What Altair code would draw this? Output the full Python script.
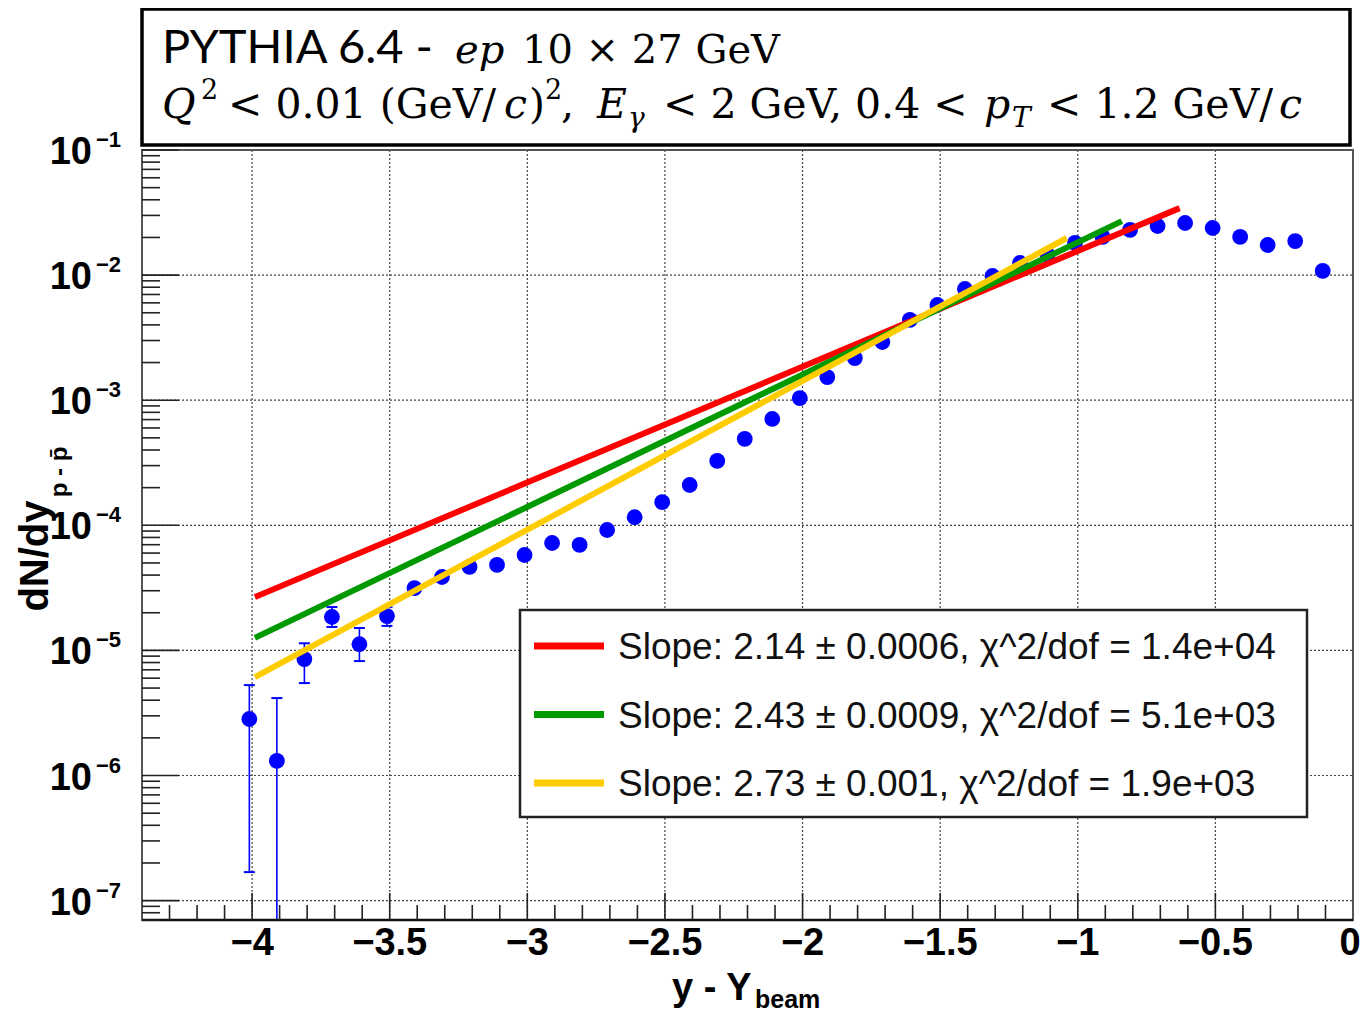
import altair as alt
import pandas as pd

# ---------------- data ----------------
y_beam = [-4.01, -3.91, -3.81, -3.71, -3.61, -3.51, -3.41, -3.31, -3.21, -3.11,
          -3.01, -2.91, -2.81, -2.71, -2.61, -2.51, -2.41, -2.31, -2.21, -2.11,
          -2.01, -1.91, -1.81, -1.71, -1.61, -1.51, -1.41, -1.31, -1.21, -1.11,
          -1.01, -0.91, -0.81, -0.71, -0.61, -0.51, -0.41, -0.31, -0.21, -0.11]
dndy = [2.83e-6, 1.31e-6, 8.53e-6, 1.85e-5, 1.12e-5, 1.88e-5, 3.15e-5, 3.86e-5, 4.65e-5, 4.82e-5,
        5.79e-5, 7.22e-5, 6.97e-5, 9.17e-5, 1.16e-4, 1.53e-4, 2.10e-4, 3.27e-4, 4.90e-4, 7.08e-4,
        1.04e-3, 1.53e-3, 2.17e-3, 2.92e-3, 4.38e-3, 5.77e-3, 7.74e-3, 9.84e-3, 1.25e-2, 1.45e-2,
        1.81e-2, 2.02e-2, 2.30e-2, 2.47e-2, 2.61e-2, 2.38e-2, 2.02e-2, 1.74e-2, 1.87e-2, 1.08e-2]

err_x = [-4.01, -3.91, -3.81, -3.71, -3.61, -3.51]
err_lo = [1.69e-7, 5.0e-8, 5.48e-6, 1.54e-5, 8.22e-6, 1.57e-5]
err_hi = [5.28e-6, 4.16e-6, 1.14e-5, 2.22e-5, 1.51e-5, 2.22e-5]

fit_labels = ["Slope: 2.14 \u00b1 0.0006, \u03c7^2/dof = 1.4e+04",
              "Slope: 2.43 \u00b1 0.0009, \u03c7^2/dof = 5.1e+03",
              "Slope: 2.73 \u00b1 0.001, \u03c7^2/dof = 1.9e+03"]
fit_colors = ["#ff0000", "#009900", "#ffcc00"]
fit_x0 = [-3.99, -3.99, -3.99]
fit_x1 = [-0.63, -0.84, -1.04]
fit_y0 = [2.67e-5, 1.26e-5, 6.12e-6]
fit_y1 = [3.43e-2, 2.70e-2, 1.98e-2]

x_tick_values = [-4, -3.5, -3, -2.5, -2, -1.5, -1, -0.5, 0]
x_tick_labels = ["\u22124", "\u22123.5", "\u22123", "\u22122.5", "\u22122",
                 "\u22121.5", "\u22121", "\u22120.5", "0"]
y_decades = [1e-1, 1e-2, 1e-3, 1e-4, 1e-5, 1e-6, 1e-7]
y_exponents = ["\u22121", "\u22122", "\u22123", "\u22124", "\u22125", "\u22126", "\u22127"]

# ---------------- tables ----------------
pts = pd.DataFrame({"x": y_beam, "y": dndy})
errs = pd.DataFrame({"x": err_x, "lo": err_lo, "hi": err_hi})
fits = pd.DataFrame({
    "fit": fit_labels * 2,
    "x": fit_x0 + fit_x1,
    "y": fit_y0 + fit_y1,
})
xlab = pd.DataFrame({"v": x_tick_values, "t": x_tick_labels})
x_major = pd.DataFrame({"v": x_tick_values[:-1]})
x_minor = pd.DataFrame({"v": [round(-4.3 + 0.1 * i, 1) for i in range(43)
                              if round((-4.3 + 0.1 * i) * 2, 6) % 1 != 0]})
y_major = pd.DataFrame({"v": y_decades})
y_grid = pd.DataFrame({"v": y_decades[1:]})
y_minor = pd.DataFrame({"v": [m * 10.0 ** e for e in range(-8, -1) for m in range(2, 10)
                              if 7e-8 <= m * 10.0 ** e < 0.1]})
ylab = pd.DataFrame({"v": y_decades, "e": y_exponents})
one = pd.DataFrame({"k": [0]})

W, H = 1211, 770
xs = alt.Scale(domain=[-4.4, 0], nice=False, zero=False)
ys = alt.Scale(type="log", domain=[7e-8, 0.1], nice=False)
SANS = "Liberation Sans"
SERIF = "DejaVu Serif"


def X(field):
    return alt.X(field, scale=xs, axis=None)


def Y(field):
    return alt.Y(field, scale=ys, axis=None)


def txt(text, x, y, size, font, weight="normal", style="normal", align="left",
        baseline="alphabetic", angle=0, color="black"):
    return alt.Chart(one).mark_text(
        text=text, align=align, baseline=baseline, font=font, fontSize=size,
        fontWeight=weight, fontStyle=style, angle=angle, color=color
    ).encode(x=alt.value(x), y=alt.value(y))


layers = []

# dotted grid
layers.append(alt.Chart(x_major).mark_rule(color="#444", strokeWidth=1.2, strokeDash=[2, 2]).encode(
    x=X("v:Q"), y=alt.value(0), y2=alt.value(H)))
layers.append(alt.Chart(y_grid).mark_rule(color="#444", strokeWidth=1.2, strokeDash=[2, 2]).encode(
    y=Y("v:Q"), x=alt.value(0), x2=alt.value(W)))

# points
layers.append(
    alt.Chart(pts).mark_circle(size=250, color="#0000ff", opacity=1).encode(
        x=X("x:Q"), y=Y("y:Q"))
)

# error bars
layers.append(
    alt.Chart(errs).mark_rule(color="#0000ff", strokeWidth=1.6, clip=True).encode(
        x=X("x:Q"), y=Y("lo:Q"), y2="hi:Q")
)
for col in ["lo", "hi"]:
    layers.append(
        alt.Chart(errs).mark_tick(orient="horizontal", size=11, thickness=2,
                                  color="#0000ff", clip=True, opacity=1).encode(
            x=X("x:Q"), y=Y(f"{col}:Q"))
    )

# fit lines
layers.append(
    alt.Chart(fits).mark_line(strokeWidth=6, strokeCap="butt").encode(
        x=X("x:Q"), y=Y("y:Q"),
        color=alt.Color("fit:N", scale=alt.Scale(domain=fit_labels, range=fit_colors),
                        legend=None),
        detail="fit:N",
    )
)

# frame
layers.append(
    alt.Chart(one).mark_rect(fill="white", fillOpacity=0, stroke="#555", strokeWidth=2).encode(
        x=alt.value(0), x2=alt.value(W), y=alt.value(0), y2=alt.value(H))
)
layers.append(
    alt.Chart(one).mark_rule(color="#111", strokeWidth=2.5).encode(
        x=alt.value(0), x2=alt.value(W), y=alt.value(H))
)

# inward ticks
layers.append(alt.Chart(x_major).mark_rule(color="#222", strokeWidth=1.6).encode(
    x=X("v:Q"), y=alt.value(H), y2=alt.value(H - 27)))
layers.append(alt.Chart(x_minor).mark_rule(color="#222", strokeWidth=1.6).encode(
    x=X("v:Q"), y=alt.value(H), y2=alt.value(H - 15)))
layers.append(alt.Chart(y_major).mark_rule(color="#222", strokeWidth=1.6).encode(
    y=Y("v:Q"), x=alt.value(0), x2=alt.value(37)))
layers.append(alt.Chart(y_minor).mark_rule(color="#222", strokeWidth=1.6).encode(
    y=Y("v:Q"), x=alt.value(0), x2=alt.value(18)))

# x tick labels (last one nudged so it stays inside the page)
layers.append(alt.Chart(xlab.iloc[:-1]).mark_text(
    align="center", baseline="middle", font=SANS, fontSize=38, fontWeight="bold",
    color="black").encode(x=X("v:Q"), y=alt.value(794), text="t:N"))
layers.append(alt.Chart(xlab.iloc[-1:]).mark_text(
    align="center", baseline="middle", dx=-3, font=SANS, fontSize=38, fontWeight="bold",
    color="black").encode(x=X("v:Q"), y=alt.value(794), text="t:N"))

# y tick labels 10^k
layers.append(alt.Chart(ylab).mark_text(
    text="10", align="right", baseline="middle", dy=3, font=SANS, fontSize=38,
    fontWeight="bold", color="black").encode(y=Y("v:Q"), x=alt.value(-50)))
layers.append(alt.Chart(ylab).mark_text(
    align="left", baseline="middle", dy=-10, font=SANS, fontSize=22,
    fontWeight="bold", color="black").encode(y=Y("v:Q"), x=alt.value(-46), text="e:N"))

# axis titles
layers.append(txt("dN/dy", -94, 406, 40, SANS, weight="bold", align="center", angle=270))
layers.append(txt("p - p\u0304", -75, 322, 24, SANS, weight="bold", align="center", angle=270))
layers.append(txt("y - Y", 530, 850, 38, SANS, weight="bold"))
layers.append(txt("beam", 613, 858, 25, SANS, weight="bold"))

# legend box
LX0, LX1, LY0, LY1 = 378, 1165, 460, 667
layers.append(alt.Chart(one).mark_rect(fill="white", stroke="#222", strokeWidth=2.5).encode(
    x=alt.value(LX0), x2=alt.value(LX1), y=alt.value(LY0), y2=alt.value(LY1)))
for i, (lab, col) in enumerate(zip(fit_labels, fit_colors)):
    yc = 496 + i * 68.5
    layers.append(alt.Chart(one).mark_rule(color=col, strokeWidth=7).encode(
        x=alt.value(392), x2=alt.value(462), y=alt.value(yc)))
    layers.append(txt(lab, 476, yc + 13, 37, SANS, color="#111"))

# title box
layers.append(alt.Chart(one).mark_rect(fill="white", stroke="black", strokeWidth=3.5).encode(
    x=alt.value(0), x2=alt.value(1208), y=alt.value(-141), y2=alt.value(-5)))

B1 = 63 - 150
B2 = 118 - 150
layers.append(txt("PYTHIA 6.4 -", 162 - 142, B1, 47, "Lato"))
layers.append(txt("ep", 455 - 142, B1, 40, SERIF, style="italic"))
layers.append(txt("10 \u00d7 27 GeV", 522 - 142, B1, 40, SERIF))

segs = [
    ("Q", 162, "i"), ("2", 201, "sup"), ("< 0.01 (GeV/", 228, "n"), ("c", 504, "i"),
    (")", 529, "n"), ("2", 545, "sup"), (",", 561, "n"), ("E", 597, "i"),
    ("\u03b3", 628, "sub"), ("< 2 GeV, 0.4 <", 663, "n"), ("p", 984, "i"),
    ("T", 1012, "sub"), ("< 1.2 GeV/", 1047, "n"), ("c", 1279, "i"),
]
for t, px, kind in segs:
    if kind == "n":
        layers.append(txt(t, px - 142, B2, 41, SERIF))
    elif kind == "i":
        layers.append(txt(t, px - 142, B2, 41, SERIF, style="italic"))
    elif kind == "sup":
        layers.append(txt(t, px - 142, B2 - 19, 27, SERIF))
    else:
        layers.append(txt(t, px - 142, B2 + 9, 28, SERIF, style="italic"))

chart = alt.layer(*layers).properties(
    width=W, height=H,
    autosize=alt.AutoSizeParams(type="none"),
    padding={"left": 134, "top": 142, "right": 9, "bottom": 95},
    background="white",
).configure_view(strokeWidth=0)

chart.save("out.html", embed_options={"renderer": "svg", "actions": False})
